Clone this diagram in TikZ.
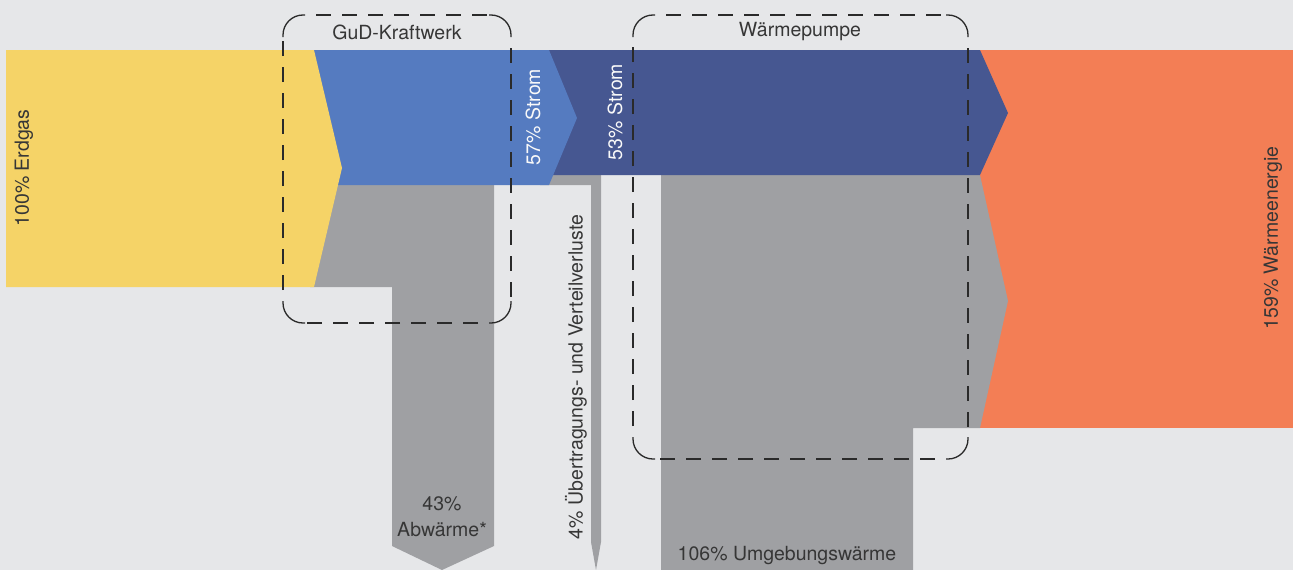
\documentclass[tikz,border=0pt]{standalone}
\usepackage{fontspec}
\setmainfont{TeX Gyre Heros}
\definecolor{bggray}{HTML}{E6E7E9}
\definecolor{gasyellow}{HTML}{F5D367}
\definecolor{elblue}{HTML}{557BC0}
\definecolor{darkblue}{HTML}{465791}
\definecolor{lossgray}{HTML}{9FA0A3}
\definecolor{heatorange}{HTML}{F37E55}
\definecolor{txtgray}{HTML}{363636}
\definecolor{boxline}{HTML}{2A2A2A}

\begin{document}
\begin{tikzpicture}[x=1pt,y=-1pt,font=\fontsize{19.5}{21}\selectfont,
	lbl/.style={text=txtgray,inner sep=0pt},
	vlbl/.style={lbl,rotate=90},
	wlbl/.style={vlbl,text=white!95!gray},
	boxcorner/.style={draw=boxline,line width=1.3pt,rounded corners=20pt},
	boxside/.style={draw=boxline,line width=1.3pt,dash pattern=on 15pt off 11pt}]
		\fill[bggray] (0,0) rectangle (1293,570);
		\useasboundingbox (0,0) rectangle (1293,570);

		% output
		\fill[heatorange] (975,50) rectangle (1293,428);

		% losses
		\fill[lossgray] (661,175) -- (980,175) -- (1008,301) -- (980,428) -- (913,428) -- (913,570) -- (661,570) -- cycle;
		\fill[lossgray] (540,175) -- (601,175) -- (601,542) -- (596,570) -- (591,542) -- (591,185) -- (540,185) -- cycle;
		\fill[lossgray] (330,185) -- (494,185) -- (494,546) -- (442,570) -- (392,546) -- (392,287) -- (310,287) -- cycle;

		% strom
		\fill[darkblue] (545,50) -- (980,50) -- (1008,113) -- (980,175) -- (545,175) -- cycle;
		\fill[elblue] (310,50) -- (549,50) -- (577,118) -- (549,185) -- (310,185) -- cycle;

		% input
		\fill[gasyellow] (6,50) -- (314,50) -- (342,168) -- (314,287) -- (6,287) -- cycle;

		% dashed plant boxes: solid corners, dashed sides
		\foreach \a / \b / \c in {283/511/323,633/968/459} {
			\draw[boxcorner] (\a,37) -- (\a,15) -- (\a+22,15);
			\draw[boxcorner] (\b-22,15) -- (\b,15) -- (\b,37);
			\draw[boxcorner] (\b,\c-22) -- (\b,\c) -- (\b-22,\c);
			\draw[boxcorner] (\a+22,\c) -- (\a,\c) -- (\a,\c-22);
			\draw[boxside] (\a+33,15) -- (\b-22,15);
			\draw[boxside] (\b,48) -- (\b,\c-22);
			\draw[boxside] (\b-33,\c) -- (\a+22,\c);
			\draw[boxside] (\a,\c-33) -- (\a,37);
		}

		\node[lbl] (gud) at (397,32) {GuD-Kraftwerk};
		\node[lbl] (wp) at (800,32) {Wärmepumpe};
		\node[vlbl] (gas) at (24,168) {100\% Erdgas};
		\node[wlbl] (strom1) at (533,117) {57\% Strom};
		\node[wlbl] (strom2) at (615,112) {53\% Strom};
		\node[vlbl] (netz) at (576,377) {4\% Übertragungs- und Verteilverluste};
		\node[lbl,align=center,font=\fontsize{19.5}{26}\selectfont] (abw) at (442,517) {43\%\\Abwärme*};
		\node[lbl] (umg) at (787,556) {106\% Umgebungswärme};
		\node[vlbl] (heat) at (1273,238) {159\% Wärmeenergie};
	\end{tikzpicture}
\end{document}
